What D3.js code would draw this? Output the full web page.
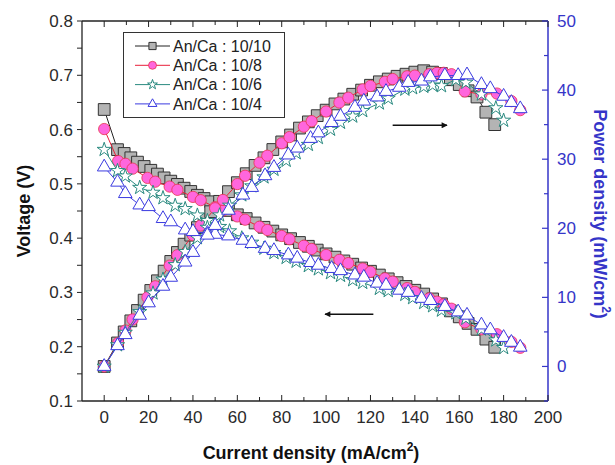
<!DOCTYPE html>
<html><head><meta charset="utf-8">
<script src="https://cdn.jsdelivr.net/npm/d3@7"></script>
<style>body{margin:0;background:#fff}svg{display:block}</style>
</head><body>
<script>
// ---- data ----
const seriesLabels = ["An/Ca : 10/10", "An/Ca : 10/8", "An/Ca : 10/6", "An/Ca : 10/4"];

const currentA = [0,6,9,12,15,18,21,24,27,30,33,36,39,42,45,48,52,56,60,64,68,72,76,80,84,88,92,96,100,104,108,112,116,120,124,128,132,136,140,144,148,152,156,160,164,168,172,176];
const voltageA = [0.637,0.563,0.556,0.548,0.540,0.532,0.525,0.518,0.511,0.505,0.499,0.492,0.486,0.479,0.473,0.467,0.459,0.451,0.443,0.436,0.428,0.420,0.413,0.406,0.399,0.392,0.385,0.378,0.371,0.365,0.358,0.352,0.345,0.339,0.332,0.325,0.318,0.311,0.304,0.297,0.288,0.279,0.266,0.255,0.243,0.232,0.214,0.199];
const powerA = [0,3.4,5.0,6.6,8.1,9.6,11.0,12.4,13.8,15.2,16.5,17.7,19.0,20.1,21.3,22.4,23.9,25.3,26.6,27.9,29.1,30.2,31.4,32.5,33.5,34.5,35.4,36.3,37.1,38.0,38.7,39.4,40.0,40.7,41.2,41.6,42.0,42.3,42.6,42.8,42.6,42.4,41.5,40.8,39.9,39.0,36.8,35.0];

const currentB = [0,6.3,9.6,12.8,19.5,23,29.5,33,40,43.5,50,53.5,60,63.5,70,73.5,80,83.5,90,93.5,100,106,110,116.5,120,126.5,130,136.5,140,146.5,150,153,156.5,162.5,170,177,183.5,187.5];
const voltageB = [0.601,0.542,0.537,0.528,0.511,0.504,0.495,0.489,0.476,0.470,0.457,0.451,0.440,0.434,0.421,0.415,0.404,0.398,0.386,0.380,0.369,0.360,0.354,0.344,0.338,0.326,0.320,0.308,0.301,0.289,0.283,0.278,0.270,0.245,0.232,0.223,0.209,0.198];
const powerB = [0,3.4,5.2,6.8,10.0,11.6,14.6,16.1,19.0,20.4,22.9,24.1,26.4,27.6,29.5,30.5,32.3,33.2,34.7,35.5,36.9,38.2,38.9,40.1,40.6,41.2,41.6,42.0,42.1,42.3,42.5,42.5,42.3,39.8,39.4,39.5,38.4,37.1];

const currentC = [0,6,9.5,16,22,26.5,32,36.5,42,46.5,52,56.5,62,66.5,72,76.5,82,86.5,92,96.5,102,106.5,112,116.5,124,128,135.5,139,144,148,152,158.5,163,170,176.5,180];
const voltageC = [0.563,0.524,0.514,0.493,0.484,0.474,0.460,0.454,0.442,0.432,0.421,0.413,0.400,0.392,0.381,0.373,0.364,0.357,0.349,0.343,0.336,0.331,0.323,0.318,0.307,0.303,0.296,0.290,0.281,0.275,0.267,0.262,0.252,0.232,0.212,0.198];
const powerC = [0,3.1,4.9,7.9,10.6,12.6,14.7,16.6,18.6,20.1,21.9,23.3,24.8,26.1,27.4,28.5,29.8,30.9,32.1,33.1,34.3,35.3,36.2,37.0,38.1,38.8,40.1,40.3,40.5,40.7,40.6,41.5,41.1,39.4,37.4,35.6];

const currentD = [0,6,9.5,16,20,26.5,30,36.5,40,46.5,50,56,62.5,66.5,72.5,76.5,83,87,93,96.5,102.5,106.5,113,117,123,127,133,137,143,147,153.5,159.5,163.5,170,174,180,183.5,187.5];
const voltageD = [0.531,0.503,0.482,0.461,0.458,0.436,0.430,0.415,0.412,0.409,0.407,0.404,0.396,0.390,0.381,0.377,0.369,0.363,0.355,0.350,0.344,0.340,0.332,0.328,0.317,0.313,0.304,0.300,0.289,0.285,0.274,0.264,0.258,0.240,0.231,0.217,0.208,0.199];
const powerD = [0,3.0,4.6,7.4,9.2,11.6,12.9,15.1,16.5,19.0,20.4,22.6,24.8,25.9,27.6,28.8,30.6,31.6,33.0,33.8,35.3,36.2,37.5,38.4,39.0,39.8,40.4,41.1,41.3,41.9,42.1,42.1,42.2,40.8,40.2,39.1,38.2,37.3];

const xTicks = [0,20,40,60,80,100,120,140,160,180,200];
const vTicks = [0.1,0.2,0.3,0.4,0.5,0.6,0.7,0.8];
const pTicks = [0,10,20,30,40,50];

// ---- layout ----
const W = 615, H = 465;
const L = 82, R = 548, T = 21, B = 401;
const FONT = "'Liberation Sans', Arial, Helvetica, sans-serif";
const BLUE = "#3535c8";

const svg = d3.select("body").append("svg").attr("width", W).attr("height", H)
  .style("font-family", FONT);

const x = d3.scaleLinear().domain([-10, 200]).range([L, R]);
const yV = d3.scaleLinear().domain([0.1, 0.8]).range([B, T]);
const yP = d3.scaleLinear().domain([-5, 50]).range([B, T]);

const series = [
  {label: seriesLabels[0], cur: currentA, v: voltageA, p: powerA, sym: d3.symbolSquare, size: 138, legSize: 52, fill: "#b4b4b4", stroke: "#333", line: "#222", sw: 1},
  {label: seriesLabels[1], cur: currentB, v: voltageB, p: powerB, sym: d3.symbolCircle, size: 100, legSize: 50, fill: "#ff66dd", stroke: "#e8344e", line: "#e8203a", sw: 0.8},
  {label: seriesLabels[2], cur: currentC, v: voltageC, p: powerC, sym: d3.symbolStar, size: 62, legSize: 30, fill: "#fff", stroke: "#2a8a80", line: "#2a8a80", sw: 1},
  {label: seriesLabels[3], cur: currentD, v: voltageD, p: powerD, sym: d3.symbolTriangle, size: 80, legSize: 34, fill: "#fff", stroke: "#3b3be0", line: "#3b3be0", sw: 1}
];

// ---- data layers ----
const plot = svg.append("g");
series.forEach(s => {
  const g = plot.append("g");
  const vPts = s.cur.map((c, i) => [c, s.v[i]]);
  const pPts = s.cur.map((c, i) => [c, s.p[i]]);
  g.append("path").attr("d", d3.line().x(d => x(d[0])).y(d => yV(d[1]))(vPts))
    .attr("fill", "none").attr("stroke", s.line).attr("stroke-width", 1);
  g.append("path").attr("d", d3.line().x(d => x(d[0])).y(d => yP(d[1]))(pPts))
    .attr("fill", "none").attr("stroke", s.line).attr("stroke-width", 1);
  const sym = d3.symbol().type(s.sym).size(s.size);
  g.selectAll(".mv").data(vPts).join("path")
    .attr("d", sym).attr("transform", d => `translate(${x(d[0])},${yV(d[1])})`)
    .attr("fill", s.fill).attr("stroke", s.stroke).attr("stroke-width", s.sw);
  g.selectAll(".mp").data(pPts).join("path")
    .attr("d", sym).attr("transform", d => `translate(${x(d[0])},${yP(d[1])})`)
    .attr("fill", s.fill).attr("stroke", s.stroke).attr("stroke-width", s.sw);
});

// ---- axes ----
const tickLabelStyle = sel => sel.attr("font-size", 17).attr("fill", "#2a2a2a");

svg.append("line").attr("x1", L).attr("x2", R).attr("y1", B).attr("y2", B).attr("stroke", "#222").attr("stroke-width", 1.3);
svg.append("line").attr("x1", L).attr("x2", R).attr("y1", T).attr("y2", T).attr("stroke", "#222").attr("stroke-width", 1.3);
svg.append("line").attr("x1", L).attr("x2", L).attr("y1", T).attr("y2", B).attr("stroke", "#222").attr("stroke-width", 1.3);
svg.append("line").attr("x1", R).attr("x2", R).attr("y1", T).attr("y2", B).attr("stroke", BLUE).attr("stroke-width", 1.5);

const xMinor = d3.range(0, 201, 10);
xMinor.forEach(v => {
  const major = v % 20 === 0;
  const len = major ? 6 : 4;
  svg.append("line").attr("x1", x(v)).attr("x2", x(v)).attr("y1", B).attr("y2", B - len).attr("stroke", "#222");
  svg.append("line").attr("x1", x(v)).attr("x2", x(v)).attr("y1", T).attr("y2", T + len).attr("stroke", "#222");
});
svg.append("g").selectAll("text").data(xTicks).join("text")
  .attr("x", d => x(d)).attr("y", B + 22).attr("text-anchor", "middle")
  .text(d => d).call(tickLabelStyle);

d3.range(0.1, 0.8001, 0.05).forEach(v => {
  svg.append("line").attr("x1", L).attr("x2", L - 5).attr("y1", yV(v)).attr("y2", yV(v)).attr("stroke", "#222");
});
svg.append("g").selectAll("text").data(vTicks).join("text")
  .attr("x", L - 9).attr("y", d => yV(d)).attr("dy", "0.35em").attr("text-anchor", "end")
  .text(d => d3.format(".1f")(d)).call(tickLabelStyle);

d3.range(-5, 50.01, 5).forEach(v => {
  const major = v % 10 === 0;
  svg.append("line").attr("x1", R).attr("x2", R - (major ? 6 : 4)).attr("y1", yP(v)).attr("y2", yP(v)).attr("stroke", BLUE).attr("stroke-width", 1.2);
});
svg.append("g").selectAll("text").data(pTicks).join("text")
  .attr("x", R + 9).attr("y", d => yP(d)).attr("dy", "0.35em").attr("text-anchor", "start")
  .text(d => d).attr("font-size", 17).attr("fill", BLUE);

const xt = svg.append("text").attr("x", 311).attr("y", 459).attr("text-anchor", "middle")
  .attr("font-size", 18).attr("font-weight", "bold").attr("fill", "#111");
xt.append("tspan").text("Current density (mA/cm");
xt.append("tspan").text("2").attr("font-size", 12).attr("dy", -8);
xt.append("tspan").text(")").attr("dy", 8);

svg.append("text").attr("transform", `translate(24,${(T + B) / 2}) rotate(-90)`)
  .attr("text-anchor", "middle").attr("dy", "0.35em")
  .attr("font-size", 18).attr("font-weight", "bold").attr("fill", "#111")
  .text("Voltage (V)");

const rt = svg.append("text").attr("transform", `translate(600,${(T + B) / 2 + 3}) rotate(90)`)
  .attr("text-anchor", "middle").attr("dy", "0.35em")
  .attr("font-size", 18).attr("font-weight", "bold").attr("fill", BLUE);
rt.append("tspan").text("Power density (mW/cm");
rt.append("tspan").text("2").attr("font-size", 12).attr("dy", -8);
rt.append("tspan").text(")").attr("dy", 8);

const defs = svg.append("defs");
defs.append("marker").attr("id", "ah").attr("viewBox", "0 0 10 10").attr("refX", 9).attr("refY", 5)
  .attr("markerWidth", 9).attr("markerHeight", 6).attr("markerUnits", "userSpaceOnUse").attr("orient", "auto")
  .append("path").attr("d", "M0,0 L10,5 L0,10 Z").attr("fill", "#111");
svg.append("line").attr("x1", x(121.3)).attr("x2", x(99.5)).attr("y1", yV(0.26)).attr("y2", yV(0.26))
  .attr("stroke", "#111").attr("stroke-width", 1.5).attr("marker-end", "url(#ah)");
svg.append("line").attr("x1", x(130)).attr("x2", x(154.5)).attr("y1", yP(34.9)).attr("y2", yP(34.9))
  .attr("stroke", "#111").attr("stroke-width", 1.5).attr("marker-end", "url(#ah)");

const lg = svg.append("g");
lg.append("rect").attr("x", 123.5).attr("y", 32.5).attr("width", 161).attr("height", 85)
  .attr("fill", "#fff").attr("stroke", "#333").attr("stroke-width", 1);
series.forEach((s, i) => {
  const yy = 46 + i * 19.3;
  lg.append("line").attr("x1", 135).attr("x2", 170).attr("y1", yy).attr("y2", yy).attr("stroke", s.line).attr("stroke-width", 1);
  lg.append("path").attr("d", d3.symbol().type(s.sym).size(s.legSize)).attr("transform", `translate(152.5,${yy})`)
    .attr("fill", s.fill).attr("stroke", s.stroke).attr("stroke-width", s.sw);
  lg.append("text").attr("x", 173).attr("y", yy).attr("dy", "0.35em").attr("font-size", 16).attr("fill", "#222").text(s.label);
});
</script>
</body></html>
